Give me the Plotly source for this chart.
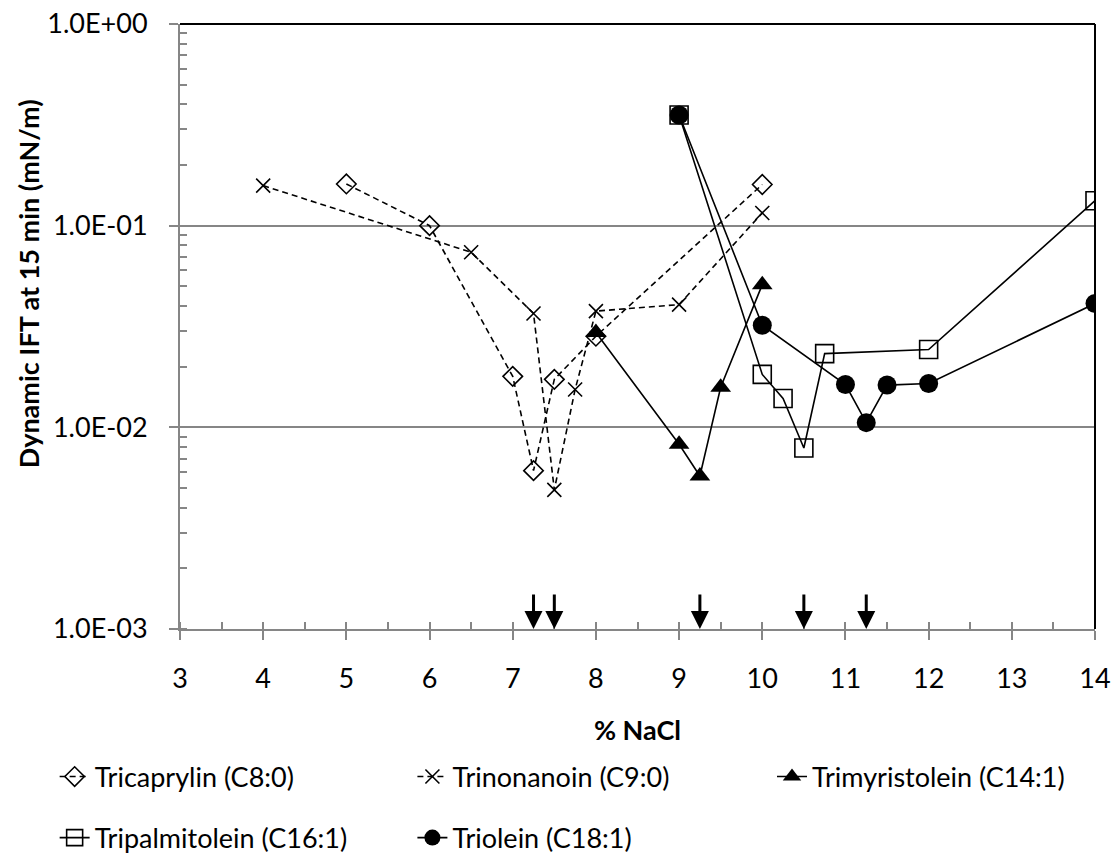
import plotly.graph_objects as go

# ---- data ----
c8_x = [5, 6, 7, 7.25, 7.5, 8, 10]
c8_y = [0.161, 0.100, 0.0179, 0.0061, 0.0173, 0.0283, 0.160]

c9_x = [4, 6.5, 7.25, 7.5, 7.75, 8, 9, 10]
c9_y = [0.158, 0.0738, 0.0367, 0.0049, 0.0154, 0.0377, 0.0406, 0.1156]

c14_x = [8, 9, 9.25, 9.5, 10]
c14_y = [0.0295, 0.00824, 0.00574, 0.0158, 0.051]

c16_x = [9, 10, 10.25, 10.5, 10.75, 12, 14]
c16_y = [0.354, 0.0183, 0.0139, 0.0079, 0.0232, 0.0243, 0.133]

c18_x = [9, 10, 11, 11.25, 11.5, 12, 14]
c18_y = [0.354, 0.0321, 0.0163, 0.01055, 0.0162, 0.0165, 0.0411]

arrow_x = [7.25, 7.5, 9.25, 10.5, 11.25]

names = ["Tricaprylin (C8:0)", "Trinonanoin (C9:0)", "Trimyristolein (C14:1)",
         "Tripalmitolein (C16:1)", "Triolein (C18:1)"]

y_tickvals = [1e-3, 1e-2, 1e-1, 1]
y_ticktext = ["1.0E-03", "1.0E-02", "1.0E-01", "1.0E+00"]
x_tickvals = [3, 4, 5, 6, 7, 8, 9, 10, 11, 12, 13, 14]

FONT = "Lato"
FS = 27
GRAY = "#868686"

fig = go.Figure()

series = [
    (c8_x, c8_y, dict(symbol="diamond-open", size=15, color="black", line=dict(width=1.6, color="black")), "6px,4px", "legend"),
    (c9_x, c9_y, dict(symbol="x-thin-open", size=14, color="black", line=dict(width=1.6, color="black")), "6px,4px", "legend2"),
    (c14_x, c14_y, dict(symbol="triangle-up", size=18, color="black", line=dict(width=0, color="black")), "solid", "legend3"),
    (c16_x, c16_y, dict(symbol="square-open", size=18, color="black", line=dict(width=1.6, color="black")), "solid", "legend4"),
    (c18_x, c18_y, dict(symbol="circle", size=19, color="black", line=dict(width=0, color="black")), "solid", "legend5"),
]

for (xs, ys, mk, dash, lg), nm in zip(series, names):
    fig.add_trace(go.Scatter(
        x=xs, y=ys, mode="lines+markers", name=nm,
        line=dict(color="black", width=1.6, dash=dash),
        marker=mk, legend=lg,
    ))

for ax in arrow_x:
    fig.add_annotation(
        x=ax, y=-3, xref="x", yref="y", text="", showarrow=True,
        ax=0, ay=-36, axref="pixel", ayref="pixel",
        arrowhead=2, arrowsize=1.2, arrowwidth=3, arrowcolor="black", standoff=0,
    )

# y title as rotated annotation (positioned like the reference)
fig.add_annotation(
    x=-0.166, y=0.57, xref="paper", yref="paper", showarrow=False,
    text="<b>Dynamic IFT at 15 min (mN/m)</b>", textangle=-90,
    font=dict(family=FONT, size=FS, color="black"), xanchor="center", yanchor="middle",
)

# black top / right border of plot area
fig.add_shape(type="line", xref="paper", yref="paper", x0=0, x1=1, y0=1, y1=1,
              line=dict(color="black", width=2))
fig.add_shape(type="line", xref="paper", yref="paper", x0=1, x1=1, y0=0, y1=1,
              line=dict(color="black", width=2))

fig.update_xaxes(
    range=[3, 14], tickvals=x_tickvals, showgrid=False, zeroline=False, automargin=False,
    showline=True, linecolor=GRAY, linewidth=2,
    ticks="outside", ticklen=9, tickwidth=2, tickcolor=GRAY,
    ticklabelstandoff=16,
    tickfont=dict(family=FONT, size=FS, color="black"),
    minor=dict(dtick=0.5, ticks="inside", ticklen=7, tickwidth=2, tickcolor=GRAY, showgrid=False),
    title=dict(text="<b>% NaCl</b>", font=dict(family=FONT, size=FS, color="black"), standoff=28),
)
fig.update_yaxes(
    type="log", range=[-3, 0], tickvals=y_tickvals, ticktext=y_ticktext, automargin=False,
    showgrid=True, gridcolor=GRAY, gridwidth=2, zeroline=False,
    showline=True, linecolor=GRAY, linewidth=2,
    ticks="outside", ticklen=9, tickwidth=2, tickcolor=GRAY,
    ticklabelstandoff=16,
    tickfont=dict(family=FONT, size=FS, color="black"),
    minor=dict(dtick="D1", ticks="inside", ticklen=7, tickwidth=2, tickcolor=GRAY, showgrid=False),
)

leg_common = dict(orientation="h", xanchor="left", yanchor="middle",
                  font=dict(family=FONT, size=FS, color="black"),
                  bgcolor="rgba(0,0,0,0)", itemwidth=30)
row1, row2 = -0.2446, -0.3455
col1, col2, col3 = -0.137, 0.254, 0.647
fig.update_layout(
    width=1117, height=856,
    margin=dict(l=180, r=22, t=24, b=227, autoexpand=False),
    paper_bgcolor="white", plot_bgcolor="white",
    font=dict(family=FONT, size=FS, color="black"),
    showlegend=True,
    legend=dict(x=col1, y=row1, **leg_common),
    legend2=dict(x=col2, y=row1, **leg_common),
    legend3=dict(x=col3, y=row1, **leg_common),
    legend4=dict(x=col1, y=row2, **leg_common),
    legend5=dict(x=col2, y=row2, **leg_common),
)

fig.write_html(
    "out.html",
    config={"displayModeBar": False},
    post_script="document.body.style.margin='0';document.body.style.overflow='hidden';",
)
